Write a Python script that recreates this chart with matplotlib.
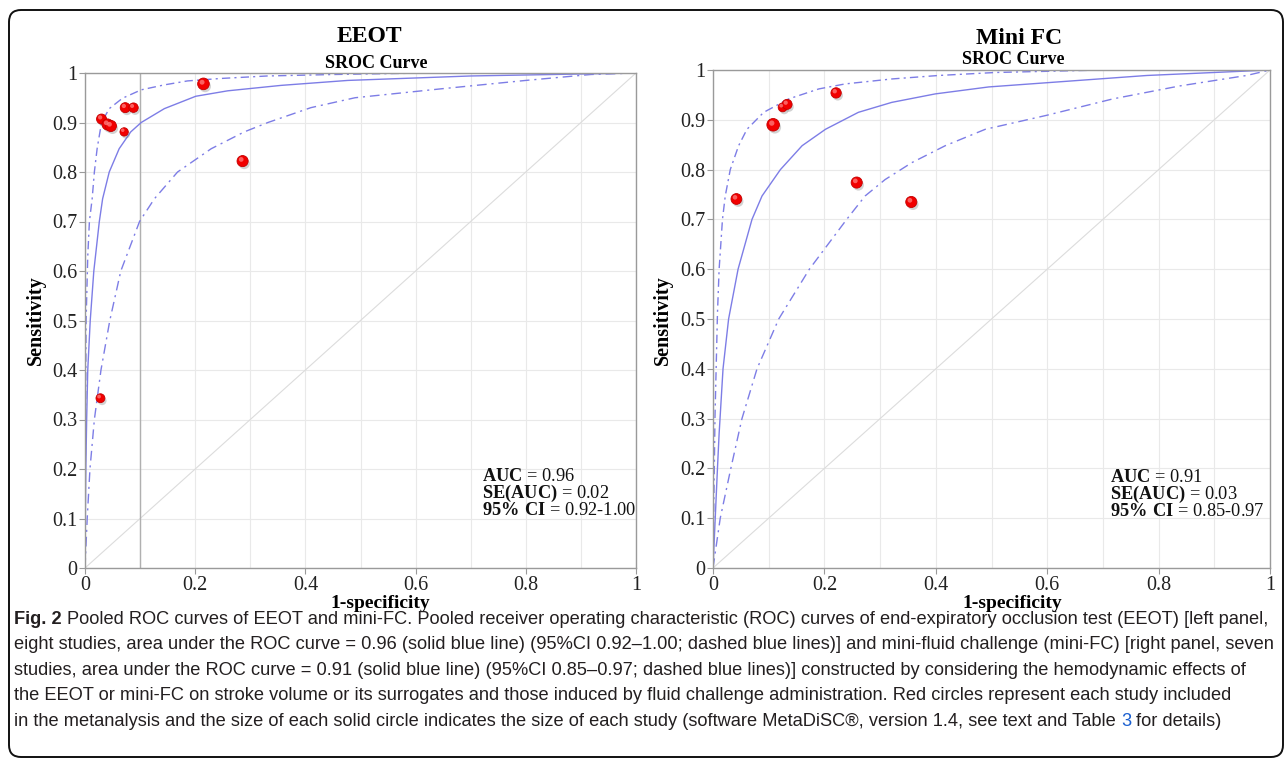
import matplotlib
matplotlib.use("Agg")
import matplotlib.pyplot as plt
import matplotlib.transforms as mtransforms
from matplotlib import font_manager as fm
from matplotlib.patches import FancyBboxPatch
import numpy as np

# ---- data ----
ticks_y = [0, 0.1, 0.2, 0.3, 0.4, 0.5, 0.6, 0.7, 0.8, 0.9, 1]
ticks_x = [0, 0.2, 0.4, 0.6, 0.8, 1]
tick_labels_y = ["0", "0.1", "0.2", "0.3", "0.4", "0.5", "0.6", "0.7", "0.8", "0.9", "1"]
tick_labels_x = ["0", "0.2", "0.4", "0.6", "0.8", "1"]

# EEOT studies (1-specificity, sensitivity, relative circle size)
eeot_fpr = [0.030, 0.041, 0.047, 0.071, 0.073, 0.088, 0.215, 0.286, 0.028]
eeot_sens = [0.907, 0.896, 0.893, 0.881, 0.930, 0.930, 0.978, 0.822, 0.343]
eeot_weight = [9, 10, 10, 7.5, 9, 8.5, 10.5, 10, 8]

# EEOT SROC curve and 95% CI
eeot_sroc_x = [0, 0.0006, 0.0015, 0.003, 0.005, 0.0095, 0.016, 0.026, 0.032, 0.044,
               0.062, 0.083, 0.102, 0.144, 0.201, 0.259, 0.356, 0.477, 0.70, 1.0]
eeot_sroc_y = [0, 0.1, 0.2, 0.3, 0.4, 0.5, 0.6, 0.7, 0.746, 0.8,
               0.847, 0.881, 0.9, 0.928, 0.953, 0.964, 0.975, 0.985, 0.994, 1.0]
eeot_hi_x = [0, 0.0003, 0.001, 0.002, 0.005, 0.008, 0.013, 0.017, 0.022, 0.030,
             0.044, 0.068, 0.102, 0.144, 0.186, 0.247, 0.331, 0.452, 0.62, 1.0]
eeot_hi_y = [0, 0.1, 0.3, 0.5, 0.63, 0.7, 0.746, 0.8, 0.847, 0.9,
             0.928, 0.949, 0.966, 0.976, 0.984, 0.989, 0.994, 0.997, 1.0, 1.0]
eeot_lo_x = [0, 0.004, 0.009, 0.017, 0.029, 0.045, 0.065, 0.099, 0.126, 0.168,
             0.229, 0.289, 0.332, 0.41, 0.49, 0.646, 0.80, 0.918, 1.0]
eeot_lo_y = [0, 0.1, 0.2, 0.3, 0.4, 0.5, 0.6, 0.7, 0.746, 0.8,
             0.847, 0.881, 0.9, 0.93, 0.95, 0.968, 0.985, 0.997, 1.0]

# Mini FC studies
mini_fpr = [0.042, 0.108, 0.125, 0.133, 0.221, 0.258, 0.356]
mini_sens = [0.741, 0.890, 0.925, 0.931, 0.954, 0.774, 0.735]
mini_weight = [9.7, 11.3, 8, 9, 9.3, 10, 10]

mini_sroc_x = [0, 0.004, 0.008, 0.011, 0.018, 0.028, 0.045, 0.070, 0.088, 0.121,
               0.160, 0.202, 0.261, 0.321, 0.399, 0.495, 0.779, 1.0]
mini_sroc_y = [0, 0.1, 0.2, 0.27, 0.4, 0.5, 0.6, 0.7, 0.747, 0.8,
               0.848, 0.881, 0.915, 0.935, 0.952, 0.966, 0.989, 1.0]
mini_hi_x = [0, 0.0035, 0.008, 0.011, 0.017, 0.022, 0.031, 0.046, 0.061, 0.091,
             0.136, 0.190, 0.237, 0.321, 0.405, 0.507, 0.70, 1.0]
mini_hi_y = [0, 0.3, 0.511, 0.6, 0.7, 0.747, 0.8, 0.848, 0.881, 0.915,
             0.942, 0.962, 0.972, 0.982, 0.989, 0.995, 1.0, 1.0]
mini_lo_x = [0, 0.013, 0.032, 0.052, 0.079, 0.118, 0.173, 0.24, 0.273, 0.309,
             0.357, 0.417, 0.489, 0.599, 0.718, 0.838, 0.958, 1.0]
mini_lo_y = [0, 0.1, 0.2, 0.3, 0.4, 0.5, 0.6, 0.7, 0.747, 0.78,
             0.814, 0.848, 0.881, 0.909, 0.942, 0.968, 0.989, 1.0]

eeot_stats = [("AUC", "0.96"), ("SE(AUC)", "0.02"), ("95\\%\\ CI", "0.92-1.00")]
mini_stats = [("AUC", "0.91"), ("SE(AUC)", "0.03"), ("95\\%\\ CI", "0.85-0.97")]

caption_lines = [
    [("Fig. 2", "bold", "#231f20"),
     ("Pooled ROC curves of EEOT and mini-FC. Pooled receiver operating characteristic (ROC) "
      "curves of end-expiratory occlusion test (EEOT) [left panel,", "normal", "#231f20")],
    [("eight studies, area under the ROC curve = 0.96 (solid blue line) (95%CI 0.92\u20131.00; "
      "dashed blue lines)] and mini-fluid challenge (mini-FC) [right panel, seven", "normal", "#231f20")],
    [("studies, area under the ROC curve = 0.91 (solid blue line) (95%CI 0.85\u20130.97; "
      "dashed blue lines)] constructed by considering the hemodynamic effects of", "normal", "#231f20")],
    [("the EEOT or mini-FC on stroke volume or its surrogates and those induced by fluid "
      "challenge administration. Red circles represent each study included", "normal", "#231f20")],
    [("in the metanalysis and the size of each solid circle indicates the size of each study "
      "(software MetaDiSC\u00ae, version 1.4, see text and Table", "normal", "#231f20"),
     ("3", "normal", "#1a5fd0"),
     ("for details)", "normal", "#231f20")],
]

# ---- style ----
plt.rcParams["font.family"] = ["Liberation Serif", "DejaVu Serif"]
plt.rcParams["mathtext.fontset"] = "custom"
plt.rcParams["mathtext.rm"] = "Liberation Serif"
plt.rcParams["mathtext.bf"] = "Liberation Serif:bold"

W, H = 1285, 759
fig = plt.figure(figsize=(W / 100, H / 100), dpi=100)

curve_col = "#7d7de6"
dash_hi = (0, (6, 3, 1.5, 3))
dash_lo = (0, (7, 3.5, 1.5, 3.5))


def px_axes(x0, x1, y_top, y_bot):
    return fig.add_axes([x0 / W, 1 - y_bot / H, (x1 - x0) / W, (y_bot - y_top) / H])


def draw_panel(ax, fpr, sens, weight, sroc, hi, lo, stats, stats_x, stats_y):
    ax.set_xlim(0, 1)
    ax.set_ylim(0, 1)
    ax.set_xticks(ticks_x)
    ax.set_xticklabels(tick_labels_x)
    ax.set_xticks(np.arange(1, 10) / 10, minor=True)
    ax.set_yticks(ticks_y)
    ax.set_yticklabels(tick_labels_y)
    ax.grid(True, which="both", color="#e9e9e9", lw=0.8)
    ax.set_axisbelow(True)
    for s in ax.spines.values():
        s.set_color("#9a9a9a")
        s.set_linewidth(1.0)
    ax.tick_params(axis="both", which="major", labelsize=14.5, color="#9a9a9a",
                   length=4, pad=1.5, labelcolor="#222222")
    ax.tick_params(axis="x", which="minor", length=0)

    ax.plot([0, 1], [0, 1], color="#dcdcdc", lw=0.8, zorder=1)
    ax.plot(sroc[0], sroc[1], color=curve_col, lw=1.0, zorder=2)
    ax.plot(hi[0], hi[1], color=curve_col, lw=1.0, ls=dash_hi, zorder=2)
    ax.plot(lo[0], lo[1], color=curve_col, lw=1.0, ls=dash_lo, zorder=2)

    sizes = [(w * 0.8) ** 2 for w in weight]
    shadow = mtransforms.offset_copy(ax.transData, fig=fig, x=1.2, y=-1.8, units="points")
    ax.scatter(fpr, sens, s=sizes, color="#808080", alpha=0.35, lw=0,
               transform=shadow, zorder=3, clip_on=False)
    ax.scatter(fpr, sens, s=sizes, color="#f20000", edgecolor="#c40000", lw=0.6,
               zorder=4, clip_on=False)
    glint = mtransforms.offset_copy(ax.transData, fig=fig, x=-1.0, y=1.2, units="points")
    ax.scatter(fpr, sens, s=[s * 0.18 for s in sizes], color="#ff8a8a", alpha=0.7, lw=0,
               transform=glint, zorder=5, clip_on=False)

    for (lab, val), yy in zip(stats, stats_y):
        ax.text(stats_x, yy, r"$\mathbf{%s}$ = %s" % (lab, val), transform=ax.transAxes,
                fontsize=13.2, va="baseline", ha="left", color="#111111")


# left panel
ax1 = px_axes(85, 636, 73, 568)
draw_panel(ax1, eeot_fpr, eeot_sens, eeot_weight,
           (eeot_sroc_x, eeot_sroc_y), (eeot_hi_x, eeot_hi_y), (eeot_lo_x, eeot_lo_y),
           eeot_stats, 0.72, [0.176, 0.142, 0.108])
ax1.axvline(0.1, color="#b0b0b0", lw=1.0, zorder=1)

# right panel
ax2 = px_axes(713, 1270, 70, 568)
draw_panel(ax2, mini_fpr, mini_sens, mini_weight,
           (mini_sroc_x, mini_sroc_y), (mini_hi_x, mini_hi_y), (mini_lo_x, mini_lo_y),
           mini_stats, 0.713, [0.173, 0.139, 0.105])

# titles and axis labels
fig.text(369 / W, 1 - 37 / H, "EEOT", fontsize=17, fontweight="bold", ha="center", va="center")
fig.text(376 / W, 1 - 63 / H, "SROC Curve", fontsize=13, fontweight="bold", ha="center", va="center")
fig.text(1019 / W, 1 - 38 / H, "Mini FC", fontsize=17, fontweight="bold", ha="center", va="center")
fig.text(1013 / W, 1 - 59 / H, "SROC Curve", fontsize=13, fontweight="bold", ha="center", va="center")

fig.text(380 / W, 1 - 603 / H, "1-specificity", fontsize=14, fontweight="bold", ha="center", va="center")
fig.text(1012 / W, 1 - 603 / H, "1-specificity", fontsize=14, fontweight="bold", ha="center", va="center")
fig.text(36 / W, 1 - 320 / H, "Sensitivity", fontsize=14.5, fontweight="bold", rotation=90,
         ha="center", va="center")
fig.text(663 / W, 1 - 320 / H, "Sensitivity", fontsize=14.5, fontweight="bold", rotation=90,
         ha="center", va="center")

# caption
names = {f.name for f in fm.fontManager.ttflist}
cap_font = "Liberation Sans Narrow" if "Liberation Sans Narrow" in names else "Liberation Sans"
renderer = fig.canvas.get_renderer()


def text_w(s, size, weight="normal"):
    t = fig.text(0, 0, s, fontsize=size, fontweight=weight, family=cap_font)
    w = t.get_window_extent(renderer).width
    t.remove()
    return w


base = 10.0
line1_w = sum(text_w(p[0], base, p[1]) for p in caption_lines[0])
gap_base = text_w("x x", base) - text_w("xx", base)
line1_w += gap_base * (len(caption_lines[0]) - 1)
cap_size = base * (1258 / line1_w)
gap = text_w("x x", cap_size) - text_w("xx", cap_size)

baselines = [624, 649, 675, 700, 726]
for pieces, yb in zip(caption_lines, baselines):
    x = 14.0
    for txt, weight, col in pieces:
        fig.text(x / W, 1 - yb / H, txt, fontsize=cap_size, fontweight=weight, color=col,
                 family=cap_font, va="baseline", ha="left")
        x += text_w(txt, cap_size, weight) + gap

# rounded frame
frame = FancyBboxPatch((9, 2), 1274, 747, boxstyle="round,pad=0,rounding_size=12",
                       transform=mtransforms.IdentityTransform(),
                       fill=False, edgecolor="#111111", lw=1.4)
fig.add_artist(frame)

fig.savefig("out.png", dpi=100)
